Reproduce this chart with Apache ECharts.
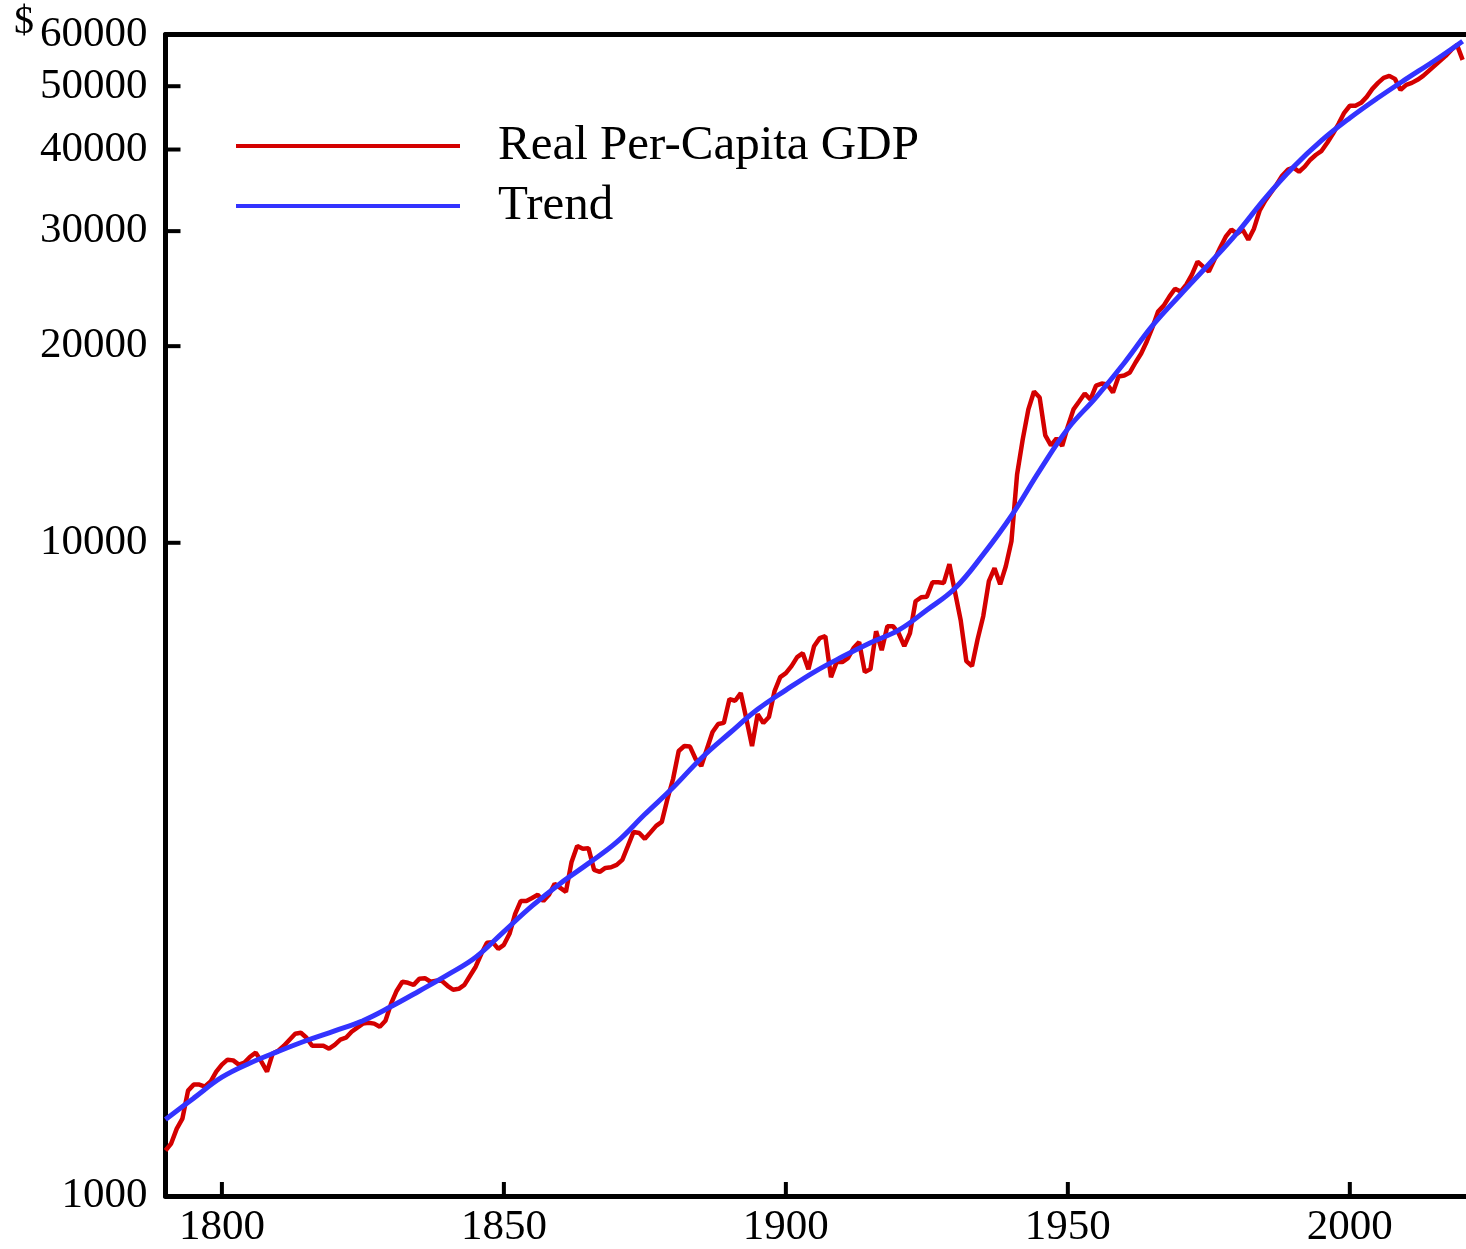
<!DOCTYPE html>
<html>
<head>
<meta charset="utf-8">
<script src="https://cdn.jsdelivr.net/npm/echarts@6/dist/echarts.min.js"></script>
<style>
  html, body { margin: 0; padding: 0; background: #fff; }
  #chart { width: 1466px; height: 1249px; }
</style>
</head>
<body>
<div id="chart"></div>
<script>
// real per-capita GDP, one value a year from 1790 to 2020
const firstYear = 1790;
const gdp = [
  1174, 1203, 1268, 1314, 1450, 1481, 1481, 1471, 1497, 1550,
  1589, 1617, 1613, 1589, 1600, 1634, 1658, 1606, 1550, 1652,
  1669, 1698, 1735, 1772, 1778, 1747, 1698, 1698, 1698, 1681,
  1704, 1735, 1747, 1784, 1810, 1836, 1842, 1836, 1816, 1855,
  1970, 2062, 2128, 2120, 2105, 2150, 2155, 2128, 2135, 2135,
  2098, 2069, 2076, 2105, 2174, 2244, 2349, 2441, 2447, 2390,
  2424, 2520, 2704, 2830, 2830, 2860, 2891, 2830, 2891, 3005,
  2963, 2921, 3247, 3435, 3400, 3408, 3157, 3135, 3179, 3186,
  3213, 3270, 3435, 3609, 3596, 3522, 3603, 3687, 3739, 4053,
  4349, 4800, 4885, 4875, 4667, 4554, 4834, 5132, 5279, 5300,
  5765, 5730, 5888, 5373, 4885, 5467, 5297, 5410, 5929, 6227,
  6316, 6474, 6682, 6776, 6406, 6946, 7145, 7194, 6227, 6567,
  6567, 6659, 6898, 7045, 6339, 6406, 7322, 6850, 7452, 7452,
  7270, 6946, 7270, 8138, 8253, 8270, 8700, 8700, 8680, 9271,
  8401, 7612, 6590, 6474, 7118, 7720, 8733, 9142, 8639, 9207,
  10053, 12726, 14398, 16002, 17043, 16688, 14600, 14098, 14450, 14070,
  15075, 16002, 16454, 16925, 16571, 17407, 17530, 17470, 16990, 17970,
  18030, 18230, 18880, 19490, 20330, 21360, 22590, 23070, 23820, 24490,
  24240, 24850, 25740, 26940, 26470, 26010, 27130, 28300, 29420, 30160,
  29740, 30160, 29110, 30260, 32240, 33400, 34350, 35330, 36470, 37250,
  37520, 36980, 37650, 38590, 39270, 39820, 40970, 42280, 43800, 45530,
  46670, 46670, 47150, 48160, 49540, 50590, 51500, 51860, 51310, 49350,
  50240, 50590, 51140, 51860, 52790, 53720, 54680, 55650, 56840, 57840,
  54870
];

const trendYears = [
  1790, 1795, 1800, 1805, 1810, 1815, 1820, 1825, 1830, 1835,
  1840, 1845, 1850, 1855, 1860, 1865, 1870, 1875, 1880, 1885,
  1890, 1895, 1900, 1905, 1910, 1915, 1920, 1925, 1930, 1935,
  1940, 1945, 1950, 1955, 1960, 1965, 1970, 1975, 1980, 1985,
  1990, 1995, 2000, 2005, 2010, 2015, 2020
];
const trendValues = [
  1310, 1412, 1520, 1598, 1665, 1730, 1790, 1855, 1950, 2060,
  2180, 2320, 2540, 2780, 3010, 3230, 3480, 3840, 4220, 4680,
  5110, 5560, 5950, 6340, 6690, 7030, 7350, 7890, 8520, 9600,
  11000, 12900, 14950, 16700, 18850, 21500, 24000, 26700, 29800, 33700,
  37600, 41300, 44700, 48000, 51300, 54700, 58600
];

const xTicks = [1800, 1850, 1900, 1950, 2000];
const yTicks = [1000, 10000, 20000, 30000, 40000, 50000, 60000];

const seriesNames = ['Real Per-Capita GDP', 'Trend'];
const colors = ['#d40000', '#3333ff'];

const xMin = 1790, xMax = 2020.6;
const yMin = 1000, yMax = 60000;

const gdpData = gdp.map((v, i) => [firstYear + i, v]);
const trendData = trendYears.map((y, i) => [y, trendValues[i]]);

const font = 'Liberation Serif, Times New Roman, serif';

const dollarSign = {
  type: 'text',
  left: 14,
  top: 2,
  style: { text: '$', fontFamily: font, fontSize: 40, fill: '#000' }
};

let myChart = echarts.init(document.getElementById('chart'), null, { renderer: 'canvas' });
let option = {
  animation: false,
  backgroundColor: '#fff',
  grid: { left: 165.5, right: 0, top: 34.5, bottom: 51.5 },
  legend: {
    // plain bars as keys, like short line samples
    data: seriesNames.map((n, i) => ({ name: n, icon: 'rect', itemStyle: { color: colors[i] } })),
    orient: 'vertical',
    left: 231,
    top: 116,
    padding: 5,
    itemWidth: 224,
    itemHeight: 4,
    itemGap: 10,
    textStyle: {
      fontFamily: font,
      fontSize: 49,
      lineHeight: 50,
      color: '#000',
      padding: [0, 0, 0, 33]
    }
  },
  graphic: [dollarSign],
  xAxis: [{
    type: 'value',
    min: xMin,
    max: xMax,
    axisLine: { show: true, lineStyle: { color: '#000', width: 5 } },
    axisTick: { show: false },
    axisLabel: {
      fontFamily: font, fontSize: 43, color: '#000', margin: 10,
      customValues: xTicks,
      formatter: v => String(Math.round(v))
    },
    splitLine: { show: false }
  }, {
    // top frame line only
    type: 'value',
    position: 'top',
    min: xMin,
    max: xMax,
    axisLine: { show: true, lineStyle: { color: '#000', width: 5 } },
    axisTick: { show: false },
    axisLabel: { show: false },
    splitLine: { show: false }
  }],
  yAxis: {
    type: 'log',
    logBase: 10,
    min: yMin,
    max: yMax,
    axisLine: { show: true, lineStyle: { color: '#000', width: 5 } },
    axisTick: { show: false },
    axisLabel: {
      fontFamily: font, fontSize: 43, color: '#000', margin: 18,
      customValues: yTicks,
      formatter: v => String(Math.round(v))
    },
    minorTick: { show: false },
    splitLine: { show: false }
  },
  series: [
    {
      name: seriesNames[0],
      type: 'line',
      data: gdpData,
      symbol: 'none',
      lineStyle: { color: colors[0], width: 4.5 },
      itemStyle: { color: colors[0] },
      z: 2
    },
    {
      name: seriesNames[1],
      type: 'line',
      data: trendData,
      symbol: 'none',
      smooth: 0.4,
      lineStyle: { color: colors[1], width: 5 },
      itemStyle: { color: colors[1] },
      z: 3
    }
  ]
};
myChart.setOption(option);

// inward ticks: place them with the chart's own scales, then draw short strokes
const finder = { xAxisIndex: 0, yAxisIndex: 0 };
const tickStyle = { stroke: '#000', lineWidth: 4 };
let ticks = [];
xTicks.forEach(x => {
  const p = myChart.convertToPixel(finder, [x, yMin]);
  ticks.push({ type: 'line', z: 10, shape: { x1: p[0], y1: p[1], x2: p[0], y2: p[1] - 14 }, style: tickStyle });
});
yTicks.filter(v => v > yMin && v < yMax).forEach(v => {
  const p = myChart.convertToPixel(finder, [xMin, v]);
  ticks.push({ type: 'line', z: 10, shape: { x1: p[0], y1: p[1], x2: p[0] + 15, y2: p[1] }, style: tickStyle });
});
myChart.setOption({ graphic: [dollarSign].concat(ticks) });
</script>
</body>
</html>
